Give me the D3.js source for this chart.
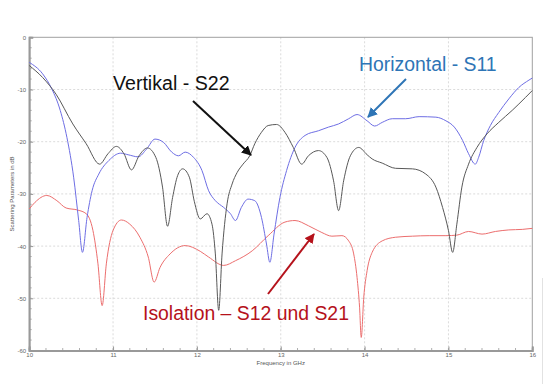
<!DOCTYPE html>
<html>
<head>
<meta charset="utf-8">
<script src="https://cdn.jsdelivr.net/npm/d3@7"></script>
<style>
html,body{margin:0;padding:0;background:#fff;}
svg{display:block;}
</style>
</head>
<body>
<svg id="chart" width="544" height="384"></svg>
<script>
// ---- data (frequency in GHz, level in dB) ----
const s22Freq = [10.0,10.16,10.32,10.52,10.68,10.84,10.94,11.04,11.13,11.22,11.31,11.41,11.51,11.59,11.65,11.71,11.77,11.83,11.91,11.97,12.04,12.12,12.18,12.22,12.26,12.30,12.36,12.42,12.48,12.55,12.63,12.69,12.77,12.85,12.95,13.05,13.15,13.25,13.33,13.45,13.55,13.63,13.69,13.75,13.83,13.93,14.03,14.09,14.21,14.37,14.57,14.73,14.85,14.93,15.00,15.05,15.10,15.16,15.24,15.34,15.46,15.60,15.76,15.92,16.0];
const s22dB   = [-5.4,-7.7,-10.9,-16.6,-20.4,-24.3,-22.3,-20.9,-22.3,-25.4,-22.7,-21.2,-23,-28.7,-36.2,-30.7,-26.5,-25.2,-26.8,-31.5,-34.8,-33.8,-35.8,-41.5,-52.3,-41.5,-31.9,-28.1,-25.9,-24.3,-22.7,-20.4,-18.2,-16.9,-16.7,-18.2,-21.1,-24.3,-22.7,-21.7,-23,-27.5,-33.2,-27.5,-22.7,-21.1,-22.5,-23.3,-24.1,-25.1,-25.2,-26.2,-28.7,-32.6,-37,-41.2,-35.8,-28.7,-24.3,-21.1,-18.5,-16.3,-14,-11.5,-10.2];

const s11Freq = [10.0,10.16,10.27,10.37,10.45,10.53,10.59,10.635,10.69,10.75,10.83,10.95,11.09,11.18,11.30,11.40,11.50,11.60,11.70,11.78,11.86,11.96,12.06,12.14,12.22,12.32,12.40,12.46,12.53,12.61,12.69,12.77,12.83,12.87,12.92,12.99,13.07,13.17,13.29,13.45,13.57,13.69,13.81,13.91,14.03,14.12,14.21,14.33,14.49,14.65,14.85,14.97,15.07,15.17,15.24,15.32,15.36,15.42,15.50,15.60,15.72,15.84,15.96,16.0];
const s11dB   = [-4.8,-7,-9.9,-14,-19.2,-26.8,-35.1,-41.2,-34.5,-29.4,-26.2,-23.6,-22.2,-22.5,-22.9,-21.4,-19.5,-20.1,-22,-22.7,-22,-23,-25.5,-29.4,-31.3,-32.6,-33.8,-35.1,-32.6,-31,-31.3,-34.5,-39.6,-43.1,-37.7,-30.7,-25.5,-21.1,-18.8,-17.9,-17.2,-16.6,-15.6,-14.8,-16,-17,-16.3,-15.6,-15.6,-15.2,-15.3,-16,-17.2,-19.8,-22.3,-24.3,-23,-19.8,-16.9,-14.4,-11.8,-9.6,-8.2,-7.8];

const s12Freq = [10.0,10.07,10.21,10.33,10.44,10.58,10.68,10.76,10.82,10.87,10.92,11.0,11.10,11.20,11.32,11.42,11.49,11.56,11.68,11.86,12.04,12.14,12.32,12.46,12.66,12.85,13.05,13.17,13.33,13.49,13.61,13.73,13.81,13.87,13.91,13.94,13.96,13.99,14.03,14.09,14.21,14.37,14.57,14.77,14.97,15.10,15.24,15.40,15.56,15.72,15.88,16.0];
const s12dB   = [-32.9,-31.6,-30.3,-31.3,-32.7,-33.1,-33.8,-37,-43.4,-51.4,-43.4,-37,-35,-35.8,-38.3,-42.1,-46.9,-44.1,-41.5,-39.9,-41,-42.1,-43.7,-42.8,-40.9,-38,-35.4,-35.1,-36.1,-37.4,-38.1,-38,-39,-41.5,-46,-51.7,-57.5,-49.8,-44.7,-41.2,-39,-38.3,-38.1,-38,-38,-37.9,-37.2,-37.7,-37.2,-36.9,-36.8,-36.6];

const xTicks = [10,11,12,13,14,15,16];
const yTicks = [0,-10,-20,-30,-40,-50,-60];
const xTitle = "Frequency in GHz";
const yTitle = "Scattering Parameters in dB";
const labelS22 = "Vertikal - S22";
const labelS11 = "Horizontal - S11";
const labelS12 = "Isolation \u2013 S12 und S21";

// ---- drawing ----
const svg = d3.select("#chart");
const x = d3.scaleLinear().domain([10,16]).range([29.2,532.3]);
const y = d3.scaleLinear().domain([0,-60]).range([37.3,350.5]);
const font = "Liberation Sans, Arial, sans-serif";

// grid
const grid = svg.append("g");
grid.selectAll("line.gx").data(xTicks.slice(1,-1)).join("line")
  .attr("x1",d=>x(d)).attr("x2",d=>x(d)).attr("y1",y(0)).attr("y2",y(-60))
  .attr("stroke","#d2d2d2").attr("stroke-width",0.8).attr("stroke-dasharray","2,2");
grid.selectAll("line.gy").data(yTicks.slice(1,-1)).join("line")
  .attr("x1",x(10)).attr("x2",x(16)).attr("y1",d=>y(d)).attr("y2",d=>y(d))
  .attr("stroke","#d2d2d2").attr("stroke-width",0.8).attr("stroke-dasharray","2,2");

// frame
svg.append("rect").attr("x",x(10)).attr("y",y(0)).attr("width",x(16)-x(10)).attr("height",y(-60)-y(0))
  .attr("fill","none").attr("stroke","#a0a0a0").attr("stroke-width",1);

// axes
const xAxis = svg.append("g").attr("transform",`translate(0,${y(-60)})`)
  .call(d3.axisBottom(x).tickValues(xTicks).tickSize(-4).tickPadding(2).tickFormat(d=>String(d)));
const yAxis = svg.append("g").attr("transform",`translate(${x(10)},0)`)
  .call(d3.axisLeft(y).tickValues(yTicks).tickSize(-4).tickPadding(3).tickFormat(d=>String(d)));
[xAxis,yAxis].forEach(a=>{
  a.select(".domain").attr("stroke","#999").attr("stroke-width",2);
  a.selectAll(".tick line").attr("stroke","#999");
  a.selectAll(".tick text").attr("fill","#666").attr("font-size","6px").attr("font-family",font);
});
// minor ticks
const xMinor = d3.range(10,16.001,0.2);
svg.append("g").selectAll("line").data(xMinor).join("line")
  .attr("x1",d=>x(d)).attr("x2",d=>x(d)).attr("y1",y(-60)).attr("y2",y(-60)-2.5)
  .attr("stroke","#999").attr("stroke-width",0.8);
const yMinor = d3.range(0,-60.001,-2);
svg.append("g").selectAll("line").data(yMinor).join("line")
  .attr("x1",x(10)).attr("x2",x(10)+2.5).attr("y1",d=>y(d)).attr("y2",d=>y(d))
  .attr("stroke","#999").attr("stroke-width",0.8);

// axis titles
svg.append("text").attr("x",x(13)).attr("y",365).attr("text-anchor","middle")
  .attr("font-size","6px").attr("fill","#555").attr("font-family",font).text(xTitle);
svg.append("text").attr("transform",`translate(14,${y(-30)}) rotate(-90)`).attr("text-anchor","middle")
  .attr("font-size","6px").attr("fill","#555").attr("font-family",font).text(yTitle);

// series
const line = d3.line().x(d=>x(d[0])).y(d=>y(d[1])).curve(d3.curveMonotoneX);
const series = [
  {f:s12Freq, v:s12dB, color:"#ec6e6e"},
  {f:s11Freq, v:s11dB, color:"#6e6ee4"},
  {f:s22Freq, v:s22dB, color:"#585858"}
];
series.forEach(s=>{
  svg.append("path").datum(d3.zip(s.f,s.v)).attr("d",line)
    .attr("fill","none").attr("stroke",s.color).attr("stroke-width",1);
});

// annotations
const defs = svg.append("defs");
function marker(id,color){
  defs.append("marker").attr("id",id).attr("viewBox","0 0 10 10").attr("refX",9).attr("refY",5)
    .attr("markerWidth",5).attr("markerHeight",5).attr("orient","auto")
    .append("path").attr("d","M0,0 L10,5 L0,10 Z").attr("fill",color);
}
marker("mBlack","#111");
marker("mBlue","#2e75b6");
marker("mRed","#b5121b");
function arrow(x1,y1,x2,y2,color,m){
  svg.append("line").attr("x1",x1).attr("y1",y1).attr("x2",x2).attr("y2",y2)
    .attr("stroke",color).attr("stroke-width",2).attr("marker-end",`url(#${m})`);
}
svg.append("text").attr("x",113).attr("y",90).attr("font-size","19.6px").attr("font-family",font).attr("fill","#111").text(labelS22);
arrow(193,101,251,155,"#111","mBlack");
svg.append("text").attr("x",359).attr("y",71).attr("font-size","19.4px").attr("font-family",font).attr("fill","#2e75b6").text(labelS11);
arrow(406,79,368,117,"#2e75b6","mBlue");
svg.append("text").attr("x",143).attr("y",320).attr("font-size","19.4px").attr("font-family",font).attr("fill","#b5121b").text(labelS12);
arrow(268,294,314,234,"#b5121b","mRed");

// faint edge line at right
svg.append("line").attr("x1",542.5).attr("x2",542.5).attr("y1",278).attr("y2",384).attr("stroke","#e2e2e2").attr("stroke-width",1);
</script>
</body>
</html>
